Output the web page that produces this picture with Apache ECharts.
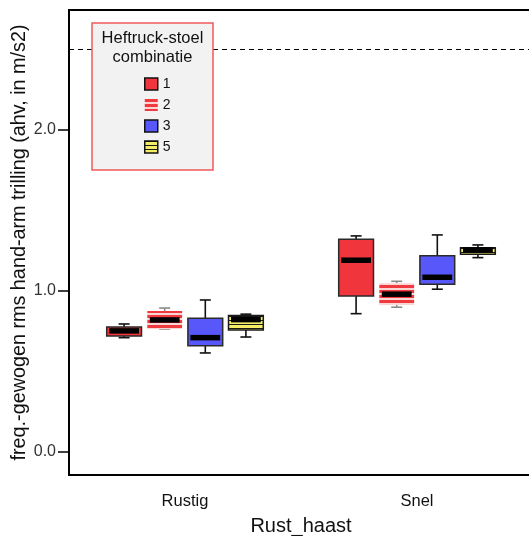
<!DOCTYPE html>
<html>
<head>
<meta charset="utf-8">
<script src="https://cdn.jsdelivr.net/npm/echarts@6/dist/echarts.min.js"></script>
<style>
  html, body { margin: 0; padding: 0; background: #fff; }
  #chart { width: 529px; height: 536px; }
</style>
</head>
<body>
<div id="chart"></div>
<script>
// Groups on the x axis
const categories = ['Rustig', 'Snel'];
// Legend labels (forklift/seat combinations)
const comboNames = ['1', '2', '3', '5'];
// Box statistics per group: [low whisker, Q1, median, Q3, high whisker]
const combo1 = [[0.710, 0.720, 0.752, 0.776, 0.795], [0.859, 0.969, 1.191, 1.321, 1.342]];
const combo2 = [[0.764, 0.764, 0.820, 0.876, 0.894], [0.899, 0.913, 0.980, 1.048, 1.060]];
const combo3 = [[0.615, 0.660, 0.710, 0.830, 0.944], [1.011, 1.042, 1.085, 1.219, 1.348]];
const combo5 = [[0.714, 0.758, 0.822, 0.847, 0.856], [1.207, 1.228, 1.255, 1.269, 1.286]];
// Reference limit line
const limitValue = 2.5;
// Y tick values
const yTicks = [0, 1, 2];

function stripePattern(bg, fg, period, band) {
  const c = document.createElement('canvas');
  c.width = 4; c.height = period;
  const ctx = c.getContext('2d');
  ctx.fillStyle = bg; ctx.fillRect(0, 0, 4, period);
  ctx.fillStyle = fg; ctx.fillRect(0, 0, 4, band);
  return { image: c, repeat: 'repeat' };
}

const redFill = '#f0363c';
const blueFill = '#5858fa';
const redStripes = stripePattern('#fbd4d4', '#f03a40', 5, 3);
const yellowStripes = stripePattern('#f4ee66', '#1a1a1a', 4, 1);

const styles = [
  { fill: redFill, stroke: '#2a2a2a', strokeW: 1.5, whisker: '#111' },
  { fill: redStripes, stroke: null, strokeW: 0, whisker: '#8a8a8a' },
  { fill: blueFill, stroke: '#2a2a2a', strokeW: 1.5, whisker: '#111' },
  { fill: yellowStripes, stroke: '#1a1a1a', strokeW: 1.5, whisker: '#111' }
];
const allStats = [combo1, combo2, combo3, combo5];
const offsets = [-3, -1, 1, 3];

function makeRender(idx) {
  const st = styles[idx];
  return function (params, api) {
    const cat = api.value(0);
    const band = api.size([1, 0])[0];
    const base = api.coord([cat, 0]);
    const cx = base[0] + offsets[idx] * band * 0.0875;
    const w = band * 0.15;
    const capW = 11;
    const yLo = api.coord([cat, api.value(1)])[1];
    const yQ1 = api.coord([cat, api.value(2)])[1];
    const yMed = api.coord([cat, api.value(3)])[1];
    const yQ3 = api.coord([cat, api.value(4)])[1];
    const yHi = api.coord([cat, api.value(5)])[1];
    const lineStyle = { stroke: st.whisker, lineWidth: 1.6 };
    const children = [
      { type: 'line', shape: { x1: cx, y1: yHi, x2: cx, y2: yQ3 }, style: lineStyle },
      { type: 'line', shape: { x1: cx, y1: yQ1, x2: cx, y2: yLo }, style: lineStyle },
      { type: 'line', shape: { x1: cx - capW / 2, y1: yHi, x2: cx + capW / 2, y2: yHi }, style: lineStyle },
      { type: 'line', shape: { x1: cx - capW / 2, y1: yLo, x2: cx + capW / 2, y2: yLo }, style: lineStyle },
      {
        type: 'rect',
        shape: { x: cx - w / 2, y: yQ3, width: w, height: yQ1 - yQ3 },
        style: { fill: st.fill, stroke: st.stroke, lineWidth: st.strokeW }
      },
      {
        type: 'rect',
        shape: { x: cx - w / 2 + 2.5, y: yMed - 2.75, width: w - 5, height: 5.5 },
        style: { fill: '#000' }
      }
    ];
    return { type: 'group', children: children };
  };
}

const series = comboNames.map((name, i) => ({
  name: name,
  type: 'custom',
  renderItem: makeRender(i),
  encode: { x: 0, y: [1, 2, 3, 4, 5] },
  itemStyle: { color: i === 0 ? redFill : i === 2 ? blueFill : (i === 1 ? '#f03a40' : '#f4ee66') },
  data: categories.map((c, ci) => [ci].concat(allStats[i][ci])),
  z: 3
}));

// Dashed limit line
series.push({
  name: 'limit',
  type: 'line',
  data: [],
  silent: true,
  markLine: {
    symbol: 'none',
    silent: true,
    label: { show: false },
    lineStyle: { color: '#000', type: [5, 4], width: 1.2 },
    data: [{ yAxis: limitValue }]
  },
  z: 2
});

const chart = echarts.init(document.getElementById('chart'), null, { renderer: 'canvas' });
const font = "'Liberation Sans', Arial, sans-serif";

chart.setOption({
  animation: false,
  backgroundColor: '#fff',
  textStyle: { fontFamily: font },
  grid: {
    left: 69, right: -4, top: 10, bottom: 61,
    containLabel: false,
    outerBoundsMode: 'none',
    show: true, borderColor: '#000', borderWidth: 2, backgroundColor: 'transparent'
  },
  xAxis: {
    type: 'category',
    data: categories,
    name: 'Rust_haast',
    nameLocation: 'middle',
    nameGap: 41,
    nameMoveOverlap: false,
    nameTextStyle: { fontSize: 20, color: '#111', fontFamily: font },
    axisLine: { onZero: false, lineStyle: { color: '#000', width: 2 } },
    axisTick: { alignWithLabel: true, length: 13, lineStyle: { color: '#000', width: 1.5 } },
    axisLabel: { fontSize: 16.5, color: '#111', margin: 18, fontFamily: font },
    splitLine: { show: false }
  },
  yAxis: {
    type: 'value',
    min: -0.143,
    max: 2.745,
    name: 'freq.-gewogen rms hand-arm trilling (ahv, in m/s2)',
    nameLocation: 'middle',
    nameGap: 39,
    nameMoveOverlap: false,
    nameTextStyle: { fontSize: 19.8, color: '#111', fontFamily: font },
    axisLine: { show: true, onZero: false, lineStyle: { color: '#000', width: 2 } },
    axisTick: { show: true, length: 11, customValues: yTicks, lineStyle: { color: '#000', width: 1.5 } },
    axisLabel: {
      fontSize: 16, color: '#333', margin: 13, fontFamily: font,
      customValues: yTicks,
      formatter: v => v.toFixed(1)
    },
    splitLine: { show: false }
  },
  legend: {
    orient: 'vertical',
    left: 139,
    top: 72,
    itemWidth: 13,
    itemHeight: 12,
    itemGap: 7,
    z: 20,
    textStyle: { fontSize: 14, color: '#111', fontFamily: font },
    data: [
      { name: '1', icon: 'rect', itemStyle: { color: redFill, borderColor: '#111', borderWidth: 1.5 } },
      { name: '2', icon: 'rect', itemStyle: { color: redStripes, borderWidth: 0 } },
      { name: '3', icon: 'rect', itemStyle: { color: blueFill, borderColor: '#111', borderWidth: 1.5 } },
      { name: '5', icon: 'rect', itemStyle: { color: yellowStripes, borderColor: '#111', borderWidth: 1.5 } }
    ]
  },
  graphic: [
    {
      type: 'rect', z: 10,
      shape: { x: 92, y: 23, width: 121, height: 147 },
      style: { fill: '#f2f2f2', stroke: '#f05a5a', lineWidth: 1.5 }
    },
    {
      type: 'text', z: 11,
      style: { x: 152.5, y: 38, text: 'Heftruck-stoel', fontSize: 16.5, fontFamily: font, fill: '#111', align: 'center', verticalAlign: 'middle' }
    },
    {
      type: 'text', z: 11,
      style: { x: 152.5, y: 57, text: 'combinatie', fontSize: 16.5, fontFamily: font, fill: '#111', align: 'center', verticalAlign: 'middle' }
    }
  ],
  series: series
});
</script>
</body>
</html>
